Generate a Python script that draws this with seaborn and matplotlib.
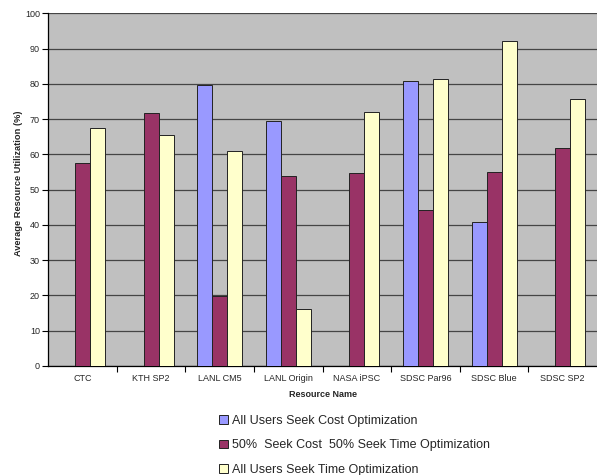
import numpy as np
import pandas as pd
import matplotlib
matplotlib.use("Agg")
import matplotlib.pyplot as plt
import seaborn as sns
from matplotlib.ticker import FixedLocator

# Resource utilization per workload resource and user strategy
resources = ["CTC", "KTH SP2", "LANL CM5", "LANL Origin", "NASA iPSC",
             "SDSC Par96", "SDSC Blue", "SDSC SP2"]
cost_opt = [np.nan, np.nan, 79.6, 69.4, np.nan, 80.8, 40.7, np.nan]
mixed_opt = [57.4, 71.6, 19.8, 53.8, 54.7, 44.3, 54.9, 61.8]
time_opt = [67.4, 65.5, 61.0, 16.0, 72.1, 81.3, 92.1, 75.6]
series_names = ["All Users Seek Cost Optimization",
                "50%  Seek Cost  50% Seek Time Optimization",
                "All Users Seek Time Optimization"]
colors = ["#9999FF", "#993366", "#FFFFCC"]
y_ticks = list(range(0, 101, 10))

rows = []
for name, vals in zip(series_names, [cost_opt, mixed_opt, time_opt]):
    for r, v in zip(resources, vals):
        rows.append({"Resource": r, "Strategy": name, "Utilization": v})
df = pd.DataFrame(rows)

sns.set_theme(style="white")
plt.rcParams["font.family"] = ["Liberation Sans", "DejaVu Sans"]

fig = plt.figure(figsize=(5.97, 4.75), dpi=100)
ax = fig.add_axes([0.0809, 0.230, 0.9191, 0.742])
ax.set_facecolor("#C0C0C0")

sns.barplot(data=df, x="Resource", y="Utilization", hue="Strategy",
            order=resources, hue_order=series_names, palette=colors,
            width=0.656, edgecolor="#222222", linewidth=0.7,
            saturation=1, errorbar=None, ax=ax, zorder=3)

ax.set_ylim(0, 100)
ax.set_xlim(-0.5, len(resources) - 0.5)
ax.set_yticks(y_ticks)
ax.yaxis.grid(True, color="#454545", linewidth=0.9, zorder=0)
ax.set_axisbelow(True)

for side in ["top", "right"]:
    ax.spines[side].set_visible(False)
for side in ["left", "bottom"]:
    ax.spines[side].set_color("black")
    ax.spines[side].set_linewidth(0.9)

ax.tick_params(axis="y", which="major", direction="out", length=4,
               width=0.8, color="black", labelsize=6.5, pad=2, left=True)
ax.tick_params(axis="x", which="major", length=0, labelsize=6.5, pad=6)
ax.xaxis.set_minor_locator(FixedLocator(np.arange(0.5, len(resources) - 1, 1)))
ax.tick_params(axis="x", which="minor", direction="out", length=4,
               width=0.8, color="black", bottom=True)

ax.set_xlabel("Resource Name", fontsize=6.5, fontweight="bold", labelpad=5)
ax.set_ylabel("Average Resource Utilization (%)", fontsize=6.7,
              fontweight="bold")
ax.yaxis.set_label_coords(-0.046, 0.517)

handles, labels = ax.get_legend_handles_labels()
ax.get_legend().remove()
fig.legend(handles, labels, loc="upper left",
           bbox_to_anchor=(0.367, 0.1265), bbox_transform=fig.transFigure,
           frameon=False, fontsize=9, handlelength=0.7, handleheight=0.7,
           handletextpad=0.35, labelspacing=1.0, borderaxespad=0,
           borderpad=0)

fig.savefig("out.png", dpi=100)
